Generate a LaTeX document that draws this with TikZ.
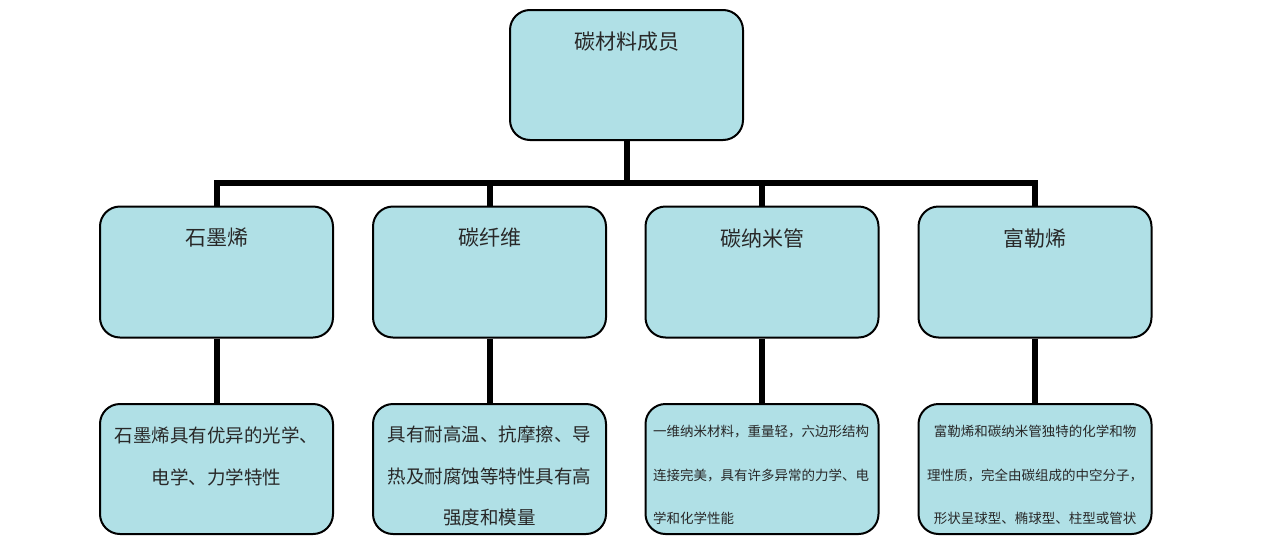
\documentclass[tikz,border=0pt]{standalone}
\usepackage{fontspec}
\setmainfont{Noto Sans CJK SC}
\definecolor{boxfill}{RGB}{176,224,230}
\definecolor{txt}{RGB}{40,40,40}
\tikzset{
  box/.style={draw=black, line width=2pt, fill=boxfill, rounded corners=20pt, inner sep=0pt},
  topbox/.style={box, minimum width=233pt, minimum height=130pt},
  midbox/.style={box, minimum width=233pt, minimum height=131pt},
  botbox/.style={box, minimum width=233pt, minimum height=130pt},
  conn/.style={draw=black, line width=6pt, line join=miter},
  title/.style={text=txt, font=\fontsize{21}{24}\selectfont, inner sep=0pt},
  bigtext/.style={text=txt, font=\fontsize{18.5}{41.5}\selectfont, inner sep=0pt, align=center, anchor=north},
  smalltext/.style={text=txt, font=\fontsize{13.5}{43.5}\selectfont, inner sep=0pt, anchor=north}
}
\begin{document}
\begin{tikzpicture}[x=1pt,y=-1pt]
\useasboundingbox[fill=white] (0,0) rectangle (1280,544);
% boxes
\node[topbox] (top) at (626.5,75) {};
\node[midbox] (m1) at (216.5,272) {};
\node[midbox] (m2) at (489.5,272) {};
\node[midbox] (m3) at (762,272) {};
\node[midbox] (m4) at (1035,272) {};
\node[botbox] (b1) at (216.5,469) {};
\node[botbox] (b2) at (489.5,469) {};
\node[botbox] (b3) at (762,469) {};
\node[botbox] (b4) at (1035,469) {};
% connectors
\coordinate (bus) at (626.5,183);
\draw[conn] (m1.north) -- (m1.north |- bus) -- (m4.north |- bus) -- (m4.north);
\draw[conn] (top.south) -- (top.south |- bus);
\draw[conn] (m2.north |- bus) -- (m2.north);
\draw[conn] (m3.north |- bus) -- (m3.north);
\draw[conn] (m1.south) -- (b1.north);
\draw[conn] (m2.south) -- (b2.north);
\draw[conn] (m3.south) -- (b3.north);
\draw[conn] (m4.south) -- (b4.north);
% titles
\node[title] (ttop) at (626.5,42) {碳材料成员};
\node[title] (t1) at (216.5,238) {石墨烯};
\node[title] (t2) at (489.5,238) {碳纤维};
\node[title] (t3) at (762,238) {碳纳米管};
\node[title] (t4) at (1035,238) {富勒烯};
% descriptions
\node[bigtext] (d1) at (216.5,427) {石墨烯具有优异的光学、\\电学、力学特性};
\node[bigtext] (d2) at (489.5,426) {具有耐高温、抗摩擦、导\\热及耐腐蚀等特性具有高\\强度和模量};
\node[smalltext, align=left] (d3) at (761,425) {一维纳米材料，重量轻，六边形结构\\连接完美，具有许多异常的力学、电\\学和化学性能};
\node[smalltext, align=center] (d4) at (1035,425) {富勒烯和碳纳米管独特的化学和物\\理性质，完全由碳组成的中空分子，\\形状呈球型、椭球型、柱型或管状};
\end{tikzpicture}
\end{document}
